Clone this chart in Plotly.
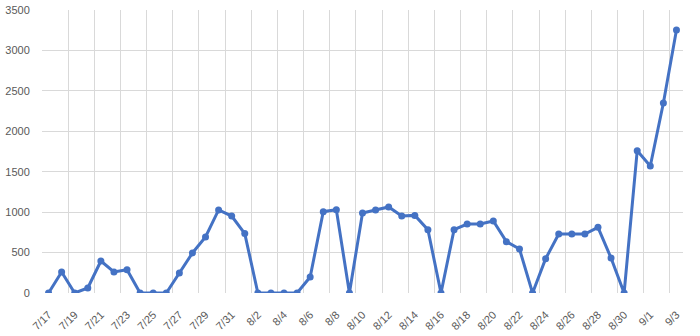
import plotly.graph_objects as go

dates = ["7/17","7/18","7/19","7/20","7/21","7/22","7/23","7/24","7/25","7/26","7/27","7/28","7/29","7/30","7/31",
         "8/1","8/2","8/3","8/4","8/5","8/6","8/7","8/8","8/9","8/10","8/11","8/12","8/13","8/14","8/15","8/16",
         "8/17","8/18","8/19","8/20","8/21","8/22","8/23","8/24","8/25","8/26","8/27","8/28","8/29","8/30","8/31",
         "9/1","9/2","9/3"]
values = [0, 260, 0, 62, 396, 260, 288, 0, 0, 0, 247, 495, 693, 1027, 952,
          735, 0, 0, 0, 0, 198, 1006, 1030, 0, 990, 1027, 1064, 952, 960, 783, 0,
          783, 853, 853, 890, 635, 544, 0, 424, 730, 730, 730, 812, 433, 0, 1760,
          1571, 2350, 3253]
y_ticks = [0, 500, 1000, 1500, 2000, 2500, 3000, 3500]

xs = list(range(len(dates)))
label_idx = xs[::2]

fig = go.Figure()
fig.add_trace(go.Scatter(
    x=xs, y=values, mode="lines+markers",
    line=dict(color="#4472C4", width=3),
    marker=dict(color="#4472C4", size=7),
    hoverinfo="skip"
))

font = dict(family="Liberation Sans, Arial, sans-serif", size=11, color="#595959")
fig.update_layout(
    width=700, height=336,
    margin=dict(l=42, r=17, t=10, b=43, autoexpand=False),
    paper_bgcolor="white", plot_bgcolor="white",
    showlegend=False,
    font=font,
    xaxis=dict(
        range=[-0.5, len(dates) - 0.5],
        automargin=False,
        tickmode="array",
        tickvals=label_idx,
        ticktext=[dates[i] for i in label_idx],
        tickangle=-45,
        autotickangles=[-45],
        showgrid=False, zeroline=False, showline=False,
        ticks="outside", ticklen=10, tickcolor="rgba(0,0,0,0)",
        tickfont=font,
        minor=dict(tickmode="array", tickvals=[i - 0.5 for i in label_idx],
                   showgrid=True, gridcolor="#D9D9D9", gridwidth=1, ticks=""),
    ),
    yaxis=dict(
        range=[0, 3500],
        automargin=False,
        tickmode="array", tickvals=y_ticks,
        showgrid=True, gridcolor="#D9D9D9", gridwidth=1,
        zeroline=False, showline=False,
        ticks="outside", ticklen=9, tickcolor="rgba(0,0,0,0)",
        tickfont=font,
    ),
)
fig.write_html("out.html")
